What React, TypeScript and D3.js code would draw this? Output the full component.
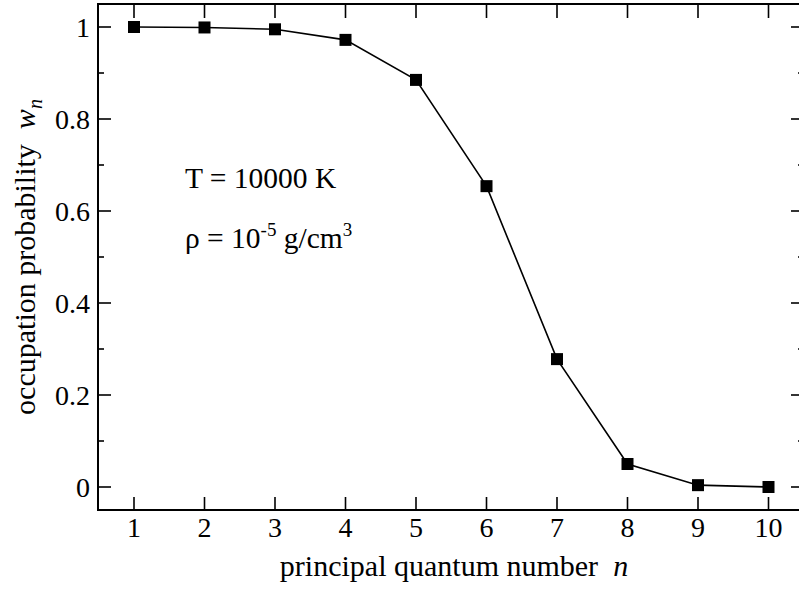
import * as React from "react";
import * as d3 from "d3";

// principal quantum number n and occupation probability w_n
const levels = [1, 2, 3, 4, 5, 6, 7, 8, 9, 10];
const occupation = [1.0, 0.999, 0.995, 0.972, 0.885, 0.654, 0.278, 0.05, 0.004, 0.0];
const yTickValues = [0, 0.2, 0.4, 0.6, 0.8, 1];
const yMinorValues = [0.1, 0.3, 0.5, 0.7, 0.9];

const W = 799;
const H = 590;
const FONT = "Liberation Serif, Times New Roman, DejaVu Serif, serif";
const FS = 28;
const LABEL_FS = 30;

function drawChart(node: SVGSVGElement) {
  const svg = d3.select(node);
  svg.selectAll("*").remove();

  const left = 98, right = 804, top = 4, bottom = 510;

  const x = d3.scaleLinear().domain([1, 10]).range([134, 768.5]);
  const y = d3.scaleLinear().domain([0, 1]).range([487, 27]);

  const g = svg.append("g").style("font-family", FONT);

  // frame
  g.append("rect")
    .attr("x", left).attr("y", top)
    .attr("width", right - left).attr("height", bottom - top)
    .attr("fill", "none").attr("stroke", "#000").attr("stroke-width", 2);

  // x ticks bottom + top
  levels.forEach((n) => {
    const px = x(n);
    g.append("line").attr("x1", px).attr("x2", px).attr("y1", bottom).attr("y2", bottom - 13)
      .attr("stroke", "#000").attr("stroke-width", 1.6);
    g.append("line").attr("x1", px).attr("x2", px).attr("y1", top).attr("y2", top + 14)
      .attr("stroke", "#000").attr("stroke-width", 1.6);
    g.append("text").attr("x", px).attr("y", 537)
      .attr("text-anchor", "middle").attr("font-size", FS)
      .text(String(n));
  });

  // y ticks left + right
  yTickValues.forEach((v) => {
    const py = y(v);
    g.append("line").attr("x1", left).attr("x2", left + 13).attr("y1", py).attr("y2", py)
      .attr("stroke", "#000").attr("stroke-width", 1.6);
    g.append("line").attr("x1", right).attr("x2", right - 13).attr("y1", py).attr("y2", py)
      .attr("stroke", "#000").attr("stroke-width", 1.6);
    g.append("text").attr("x", left - 8).attr("y", py + 10)
      .attr("text-anchor", "end").attr("font-size", FS)
      .text(v === 0 || v === 1 ? String(v) : v.toFixed(1));
  });
  yMinorValues.forEach((v) => {
    const py = y(v);
    g.append("line").attr("x1", left).attr("x2", left + 6).attr("y1", py).attr("y2", py)
      .attr("stroke", "#000").attr("stroke-width", 1.6);
    g.append("line").attr("x1", right).attr("x2", right - 6).attr("y1", py).attr("y2", py)
      .attr("stroke", "#000").attr("stroke-width", 1.6);
  });

  // the curve
  const pts: [number, number][] = levels.map((n, i) => [n, occupation[i]]);
  const line = d3.line<[number, number]>().x((d) => x(d[0])).y((d) => y(d[1]));
  g.append("path").attr("d", line(pts)).attr("fill", "none")
    .attr("stroke", "#000").attr("stroke-width", 1.6);

  g.selectAll("rect.pt").data(pts).enter().append("rect")
    .attr("class", "pt")
    .attr("x", (d) => x(d[0]) - 6).attr("y", (d) => y(d[1]) - 6)
    .attr("width", 12).attr("height", 12).attr("fill", "#000");

  // annotation
  g.append("text").attr("x", 185).attr("y", 188)
    .attr("font-size", 29.5).text("T = 10000 K");

  const t2 = g.append("text").attr("x", 185).attr("y", 248).attr("font-size", 29.5);
  t2.append("tspan").text("ρ = 10");
  t2.append("tspan").attr("font-size", 19).attr("dy", -12).text("-5");
  t2.append("tspan").attr("dy", 12).text(" g/cm");
  t2.append("tspan").attr("font-size", 19).attr("dy", -12).text("3");

  // axis labels
  const xl = g.append("text").attr("x", 454).attr("y", 576)
    .attr("text-anchor", "middle").attr("font-size", LABEL_FS)
    .attr("xml:space", "preserve");
  xl.append("tspan").text("principal quantum number  ");
  xl.append("tspan").attr("font-style", "italic").text("n");

  const yl = g.append("text")
    .attr("transform", `translate(35, 257) rotate(-90)`)
    .attr("text-anchor", "middle").attr("font-size", LABEL_FS)
    .attr("xml:space", "preserve");
  yl.append("tspan").text("occupation probability  ");
  yl.append("tspan").attr("font-style", "italic").text("w");
  yl.append("tspan").attr("font-style", "italic").attr("font-size", 20).attr("dy", 7).text("n");
}

const App = () => {
  const ref = React.useRef<SVGSVGElement>(null);
  React.useEffect(() => {
    if (ref.current) drawChart(ref.current);
  }, []);
  return (
    <svg ref={ref} width={W} height={H} style={{ position: "absolute", left: 0, top: 0, background: "#fff" }} />
  );
};

export default App;
